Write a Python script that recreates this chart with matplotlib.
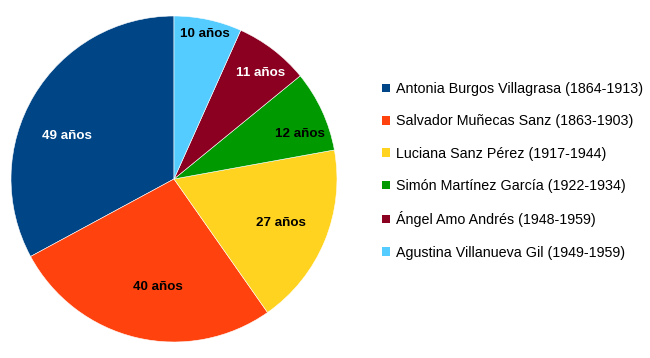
import numpy as np
import matplotlib
matplotlib.use("Agg")
import matplotlib.pyplot as plt
from matplotlib.patches import Patch

plt.rcParams['font.family'] = ['Liberation Sans', 'DejaVu Sans']

# datos del gráfico
nombres = ['Antonia Burgos Villagrasa (1864-1913)',
           'Salvador Muñecas Sanz (1863-1903)',
           'Luciana Sanz Pérez (1917-1944)',
           'Simón Martínez García (1922-1934)',
           'Ángel Amo Andrés (1948-1959)',
           'Agustina Villanueva Gil (1949-1959)']
anios = [49, 40, 27, 12, 11, 10]
etiquetas = ['%d años' % a for a in anios]

colores = ['#004586', '#ff420e', '#ffd320', '#009a00', '#8b0020', '#55ccff']
color_texto = ['white', 'black', 'black', 'black', 'white', 'black']
# posición de cada etiqueta (fracción del radio, giro en grados)
dist_etiqueta = [0.71, 0.67, 0.71, 0.82, 0.84, 0.91]
giro_etiqueta = [9, 5, 0, -5, -2, 0]

fig = plt.figure(figsize=(6.5, 3.58), dpi=100)
ax = fig.add_axes([11 / 650, 16 / 358, 326 / 650, 326 / 358])

wedges, _ = ax.pie(anios, colors=colores, startangle=90, counterclock=True,
                   wedgeprops=dict(edgecolor='white', linewidth=0.4))
ax.set_xlim(-1, 1)
ax.set_ylim(-1, 1)
ax.set_aspect('equal')

for w, txt, c, d, g in zip(wedges, etiquetas, color_texto, dist_etiqueta, giro_etiqueta):
    ang = np.deg2rad((w.theta1 + w.theta2) / 2 + g)
    ax.text(d * np.cos(ang), d * np.sin(ang), txt, color=c, fontsize=9.6,
            fontweight='bold', ha='center', va='center')

handles = [Patch(facecolor=c, edgecolor='none') for c in colores]
fig.legend(handles, nombres, loc='upper left', bbox_to_anchor=(382 / 650, 1 - 82 / 358),
           frameon=False, fontsize=10.3, handlelength=0.55, handleheight=0.55,
           handletextpad=0.45, labelspacing=1.28, borderaxespad=0, borderpad=0)

fig.savefig('out.png', dpi=100)
